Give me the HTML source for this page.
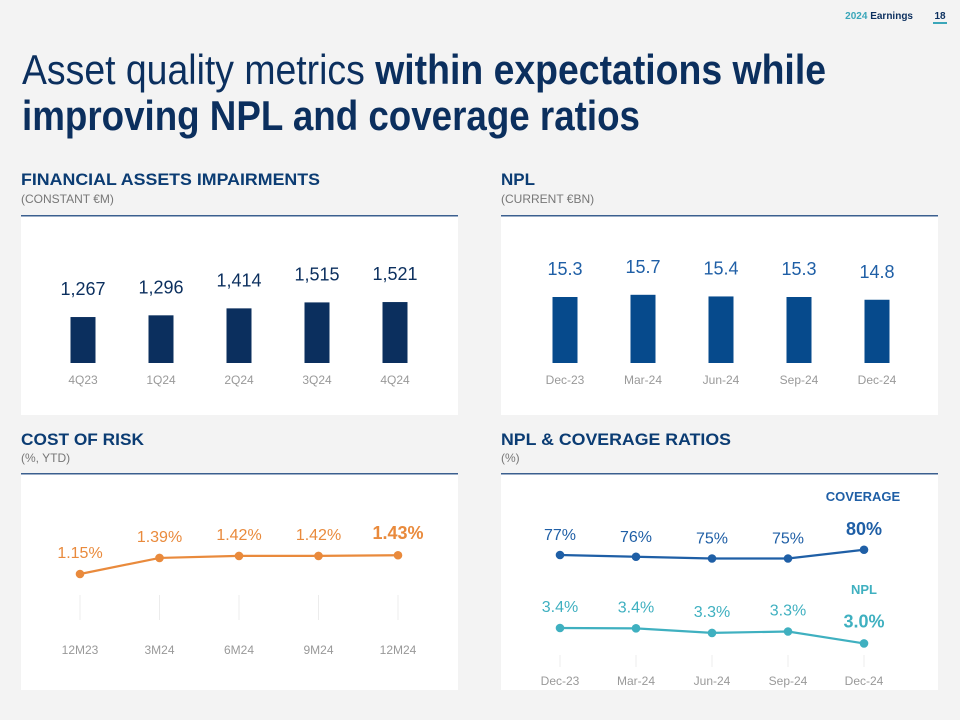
<!DOCTYPE html>
<html><head><meta charset="utf-8"><style>
html,body{margin:0;padding:0;background:#f3f3f3;}
svg{display:block;font-family:"Liberation Sans",sans-serif;}
</style></head><body>
<svg width="960" height="720" viewBox="0 0 960 720">
<rect x="0" y="0" width="960" height="720" fill="#f3f3f3"/>
<g>
<text x="913" y="19" font-size="10" font-weight="bold" text-anchor="end"><tspan fill="#3aa6b9">2024</tspan><tspan fill="#0b2f5e"> Earnings</tspan></text>
<text x="940" y="19" font-size="10" font-weight="bold" fill="#0b2f5e" text-anchor="middle">18</text>
<rect x="933" y="22" width="14" height="2" fill="#3aa6b9"/>
</g>
<text x="22" y="84" font-size="42" fill="#0b2f5e" textLength="804" lengthAdjust="spacingAndGlyphs"><tspan>Asset quality metrics </tspan><tspan font-weight="bold">within expectations while</tspan></text>
<text x="22" y="130" font-size="42" font-weight="bold" fill="#0b2f5e" textLength="618" lengthAdjust="spacingAndGlyphs">improving NPL and coverage ratios</text>

<g id="panels">
<rect x="21" y="216" width="437" height="199" fill="#fff"/>
<rect x="501" y="216" width="437" height="199" fill="#fff"/>
<rect x="21" y="474" width="437" height="216" fill="#fff"/>
<rect x="501" y="474" width="437" height="216" fill="#fff"/>
<rect x="21" y="215" width="437" height="1.5" fill="#3b5f8f"/>
<rect x="501" y="215" width="437" height="1.5" fill="#3b5f8f"/>
<rect x="21" y="473" width="437" height="1.5" fill="#3b5f8f"/>
<rect x="501" y="473" width="437" height="1.5" fill="#3b5f8f"/>
</g>
<g font-weight="bold" fill="#0b3c73" font-size="17">
<text x="21" y="185" textLength="299" lengthAdjust="spacingAndGlyphs">FINANCIAL ASSETS IMPAIRMENTS</text>
<text x="501" y="185">NPL</text>
<text x="21" y="445" textLength="123" lengthAdjust="spacingAndGlyphs">COST OF RISK</text>
<text x="501" y="445" textLength="230" lengthAdjust="spacingAndGlyphs">NPL &amp; COVERAGE RATIOS</text>
</g>
<g fill="#777" font-size="12">
<text x="21" y="203">(CONSTANT €M)</text>
<text x="501" y="203">(CURRENT €BN)</text>
<text x="21" y="462">(%, YTD)</text>
<text x="501" y="462">(%)</text>
</g>
<g id="c1"></g><g id="c2"></g><g id="c3"></g><g id="c4"></g>
<text x="863" y="501" font-size="13" font-weight="bold" fill="#1f5fa6" text-anchor="middle">COVERAGE</text>
<text x="864" y="594" font-size="13" font-weight="bold" fill="#3fb0c0" text-anchor="middle">NPL</text>
</svg>
<script>
const impCats=["4Q23","1Q24","2Q24","3Q24","4Q24"];
const impVals=[1267,1296,1414,1515,1521];
const impLabels=["1,267","1,296","1,414","1,515","1,521"];
const nplCats=["Dec-23","Mar-24","Jun-24","Sep-24","Dec-24"];
const nplVals=[15.3,15.7,15.4,15.3,14.8];
const nplLabels=["15.3","15.7","15.4","15.3","14.8"];
const corCats=["12M23","3M24","6M24","9M24","12M24"];
const corVals=[1.15,1.39,1.42,1.42,1.43];
const corLabels=["1.15%","1.39%","1.42%","1.42%","1.43%"];
const ratioCats=["Dec-23","Mar-24","Jun-24","Sep-24","Dec-24"];
const coverageVals=[77,76,75,75,80];
const coverageLabels=["77%","76%","75%","75%","80%"];
const nplRatioVals=[3.42,3.41,3.28,3.32,2.98];
const nplRatioLabels=["3.4%","3.4%","3.3%","3.3%","3.0%"];
const NS="http://www.w3.org/2000/svg";
function mk(p,t,a){const e=document.createElementNS(NS,t);for(const k in a)e.setAttribute(k,a[k]);p.appendChild(e);return e;}
function bars(gid,cats,vals,labels,x0,step,base,k,color,lcolor,fs,nm){
 const g=document.getElementById(gid);
 const x=i=>x0+i*step, y=v=>363-(v-base)*k;
 vals.forEach((v,i)=>{
  const r=mk(g,'rect',{x:x(i)-12.5,y:y(v),width:25,height:363-y(v),fill:color});
  
  
  const t=mk(g,'text',{x:x(i),y:y(v)-22,'font-size':fs,fill:lcolor,'text-anchor':'middle'});t.textContent=labels[i];
  
  
  const c=mk(g,'text',{x:x(i),y:384,'font-size':12,fill:'#999','text-anchor':'middle'});c.textContent=cats[i];
  
  
 });
}
bars('c1',impCats,impVals,impLabels,83,78,488,0.059,'#0b2f5e','#0b2f5e',18,'impairments');
bars('c2',nplCats,nplVals,nplLabels,565,78,3.3,5.5,'#064a8c','#1f5fa6',18,'npl');
function line(g,cats,vals,labels,xs,y,color,fs,nm,bolds,off){
 const pts=vals.map((v,i)=>[xs(i),y(v)]);
 const p=mk(g,'polyline',{points:pts.map(q=>q.join(',')).join(' '),fill:'none',stroke:color,'stroke-width':2.2});
 
 
 pts.forEach((q,i)=>{
  const c=mk(g,'circle',{cx:q[0],cy:q[1],r:4.3,fill:color});
  
  
  const t=mk(g,'text',{x:q[0],y:q[1]-off,'font-size':bolds&&i==vals.length-1?fs+2:fs,'font-weight':bolds&&i==vals.length-1?'bold':'normal',fill:color,'text-anchor':'middle'});
  t.textContent=labels[i];
  
  
 });
}
const g3=document.getElementById('c3');
const x3=i=>80+i*79.5, y3=v=>574-(v-1.15)*67;
corCats.forEach((c,i)=>{mk(g3,'rect',{x:x3(i)-0.5,y:595,width:1,height:25,fill:'#ececec'});
 const t=mk(g3,'text',{x:x3(i),y:654,'font-size':12,fill:'#999','text-anchor':'middle'});t.textContent=c;
 
 });
line(g3,corCats,corVals,corLabels,x3,y3,'#e98a3c',16,'cor',true,16);
const g4=document.getElementById('c4');
const x4=i=>560+i*76;
ratioCats.forEach((c,i)=>{mk(g4,'rect',{x:x4(i)-0.5,y:655,width:1,height:12,fill:'#ececec'});
 const t=mk(g4,'text',{x:x4(i),y:685,'font-size':12,fill:'#999','text-anchor':'middle'});t.textContent=c;
 
 });
line(g4,ratioCats,coverageVals,coverageLabels,x4,v=>555-(v-77)*1.75,'#1f5fa6',16,'coverage',true,15);
line(g4,ratioCats,nplRatioVals,nplRatioLabels,x4,v=>628-(v-3.42)*35,'#3fb0c0',16,'npl-ratio',true,16);
</script>
</body></html>
